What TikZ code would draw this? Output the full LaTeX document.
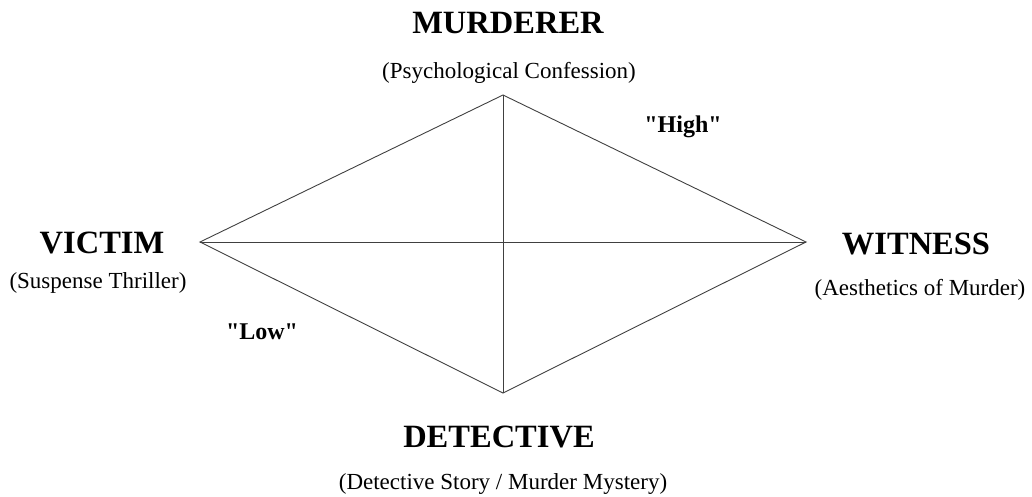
\documentclass[tikz,border=0pt]{standalone}
\usepackage{fontspec}
\setmainfont{Liberation Serif}
\newfontfamily\plainq{Liberation Serif}[Ligatures=ResetAll]
\newcommand{\sq}{{\plainq\bfseries\symbol{34}}}
\begin{document}
\begin{tikzpicture}[x=1pt,y=-1pt,
  edge/.style={draw=black!75, line width=0.9pt},
  title/.style={font=\fontsize{32.5}{36}\selectfont\bfseries, inner sep=0pt},
  sub/.style={font=\fontsize{23}{26}\selectfont, inner sep=0pt},
  lvl/.style={font=\fontsize{24}{28}\selectfont\bfseries, inner sep=0pt}]
\useasboundingbox (0,0) rectangle (1032,497);
\coordinate (T) at (503,95);
\coordinate (L) at (200,242);
\coordinate (R) at (806,242);
\coordinate (B) at (503,393);
\draw[edge] (T) -- (R) -- (B) -- (L) -- cycle;
\draw[edge] (L) -- (R);
\draw[edge] (T) -- (B);
\node[title] (murderer) at (508,23) {MURDERER};
\node[sub] (psych) at (509,73) {(Psychological Confession)};
\node[lvl] (high) at (683,127) {\sq High\sq};
\node[title] (victim) at (102,243) {VICTIM};
\node[sub] (susp) at (98,283) {(Suspense Thriller)};
\node[title] (witness) at (916,244) {WITNESS};
\node[sub] (aest) at (920,290) {(Aesthetics of Murder)};
\node[lvl] (low) at (262,332) {\sq Low\sq};
\node[title] (detective) at (499,437) {DETECTIVE};
\node[sub] (detstory) at (503,484) {(Detective Story / Murder Mystery)};
\end{tikzpicture}
\end{document}
